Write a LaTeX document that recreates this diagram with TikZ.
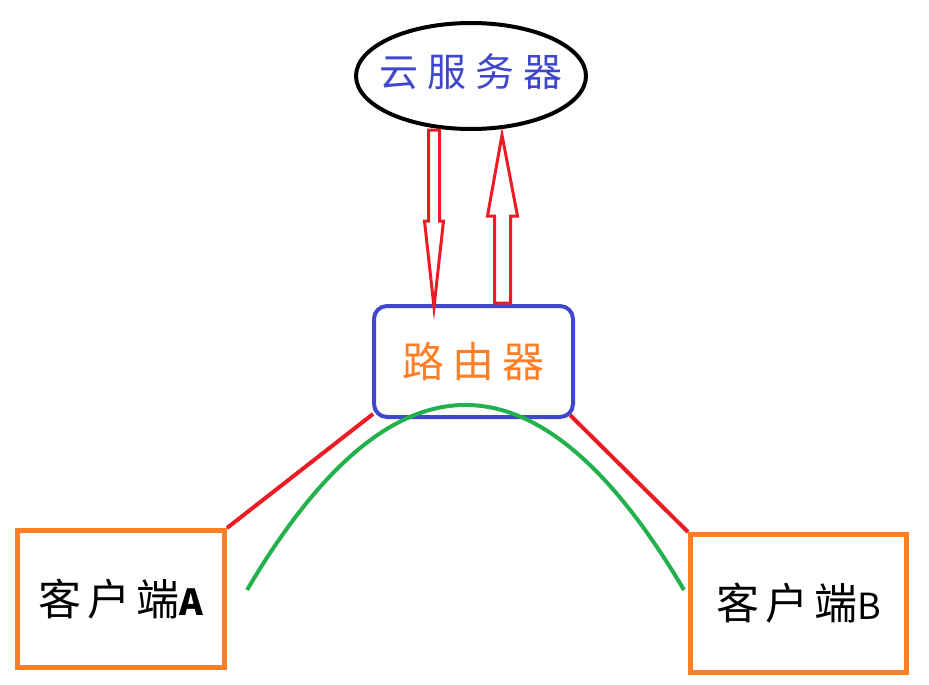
\documentclass[tikz,border=0pt]{standalone}
\usepackage{fontspec}
\newfontfamily\cjk{Noto Sans CJK SC}
\usetikzlibrary{shapes.geometric,calc}

\newcommand{\cgap}[1]{\hspace{#1pt}}

\begin{document}
\begin{tikzpicture}[x=1pt,y=-1pt,font=\cjk]
  \definecolor{paintred}{HTML}{ED1C24}
  \definecolor{paintorange}{HTML}{FF7F27}
  \definecolor{paintblue}{HTML}{3F48CC}
  \definecolor{paintgreen}{HTML}{22B14C}

  \tikzset{
    cloudnode/.style={ellipse, draw=black, line width=4pt, minimum width=230pt, minimum height=106pt, inner xsep=-12pt, inner ysep=0pt},
    routernode/.style={rectangle, rounded corners=13pt, draw=paintblue, line width=4pt, minimum width=199pt, minimum height=111pt},
    clientnode/.style={rectangle, draw=paintorange, line width=5pt, inner sep=0pt},
    link/.style={paintred, line width=4pt},
    hollow/.style={draw=paintred, line width=3pt, line join=miter},
    greenarc/.style={paintgreen, line width=4pt}
  }

  \useasboundingbox (0,0) rectangle (929,685);

  \node[cloudnode, text=paintblue, font=\cjk\fontsize{39}{42}\selectfont] (cloud) at (471,76)
    {\raisebox{12pt}{云\cgap{9}服\cgap{9}务\cgap{9}器}};
  \node[routernode, text=paintorange, font=\cjk\fontsize{42}{44}\selectfont] (router) at (473.5,361.5)
    {路\cgap{8}由\cgap{8}器};
  \node[clientnode, minimum width=207pt, minimum height=137pt, font=\cjk\fontsize{43}{46}\selectfont] (clientA) at (121,599)
    {客\cgap{6}户\cgap{6}端{\fontsize{36}{40}\selectfont\bfseries A}};
  \node[clientnode, minimum width=216pt, minimum height=138pt, font=\cjk\fontsize{43}{46}\selectfont] (clientB) at (798.5,603.5)
    {客\cgap{6}户\cgap{6}端{\fontsize{36}{40}\selectfont B}};

  % links from the clients up to the router
  \draw[link] (clientA.north east) -- ([shift={(1,-5)}]router.south west);
  \draw[link] (clientB.north west) -- ([shift={(-5,-4)}]router.south east);

  % hollow arrows between cloud and router
  \coordinate (dntop) at ([shift={(-37,-1)}]cloud.south);
  \coordinate (dntip) at ([shift={(-39.5,3)}]router.north);
  \draw[hollow] ($(dntop)+(-5.5,0)$) -- ($(dntop)+(-5.5,91)$) -- ($(dntop)+(-9.5,91)$)
    -- (dntip) -- ($(dntop)+(9.5,91)$) -- ($(dntop)+(5.5,91)$) -- ($(dntop)+(5.5,0)$) -- cycle;

  \coordinate (upbase) at ([shift={(29,-1)}]router.north);
  \coordinate (uptip) at ([shift={(31,4)}]cloud.south);
  \draw[hollow] ($(upbase)+(-8,0)$) -- ($(upbase)+(-8,-87)$) -- ($(upbase)+(-15,-87)$)
    -- (uptip) -- ($(upbase)+(15,-87)$) -- ($(upbase)+(8,-87)$) -- ($(upbase)+(8,0)$) -- cycle;

  % path between the two clients
  \coordinate (gA) at (247,590);
  \coordinate (gB) at (684,590);
  \draw[greenarc] (gA) .. controls (392.7,343.3) and (538.3,343.3) .. (gB);
\end{tikzpicture}
\end{document}
